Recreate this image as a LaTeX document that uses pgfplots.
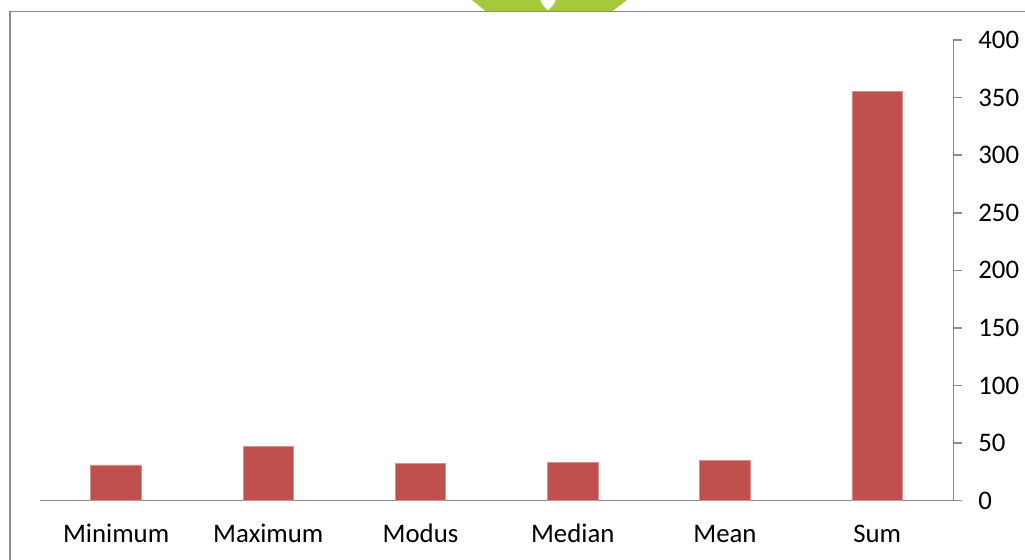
\documentclass[border=0pt]{standalone}
\usepackage{pgfplots}
\pgfplotsset{compat=1.18}
\usepackage{fontspec}
\setmainfont{Carlito}
\definecolor{barred}{HTML}{C0504D}
\definecolor{baredge}{HTML}{D6918F}
\definecolor{axgray}{HTML}{8C8C8C}
\definecolor{leaf}{HTML}{A6C83C}
\begin{document}
\begin{tikzpicture}
\useasboundingbox (0pt,0pt) rectangle (512.5pt,-280pt);
% watermark leaf at top
\fill[leaf] (236pt,0pt) -- (313.5pt,0pt) -- (306pt,-5.75pt) -- (243pt,-5.75pt) -- cycle;
\fill[white] (270pt,0.5pt) .. controls (271pt,-3pt) and (273pt,-4pt) .. (274pt,-5.2pt)
   .. controls (275pt,-4pt) and (277pt,-3pt) .. (278pt,0.5pt) -- cycle;
% outer frame
\draw[axgray, line width=0.75pt] (5pt,-5.75pt) rectangle (530pt,-295pt);
\begin{axis}[
  at={(20pt,-250.35pt)}, anchor=south west,
  scale only axis, width=456.65pt, height=230.35pt,
  xmin=-0.5, xmax=5.5, ymin=0, ymax=400,
  axis x line=bottom, axis y line=right,
  axis line style={-, draw=axgray, line width=0.75pt},
  xtick={0,1,2,3,4,5},
  xticklabels={Minimum,Maximum,Modus,Median,Mean,Sum},
  x tick style={draw=none},
  ytick={0,50,...,400},
  y tick style={draw=axgray, line width=0.75pt},
  tick align=outside, major tick length=4.5pt,
  ticklabel style={font=\fontsize{13.4}{15}\selectfont, text=black},
  yticklabel style={anchor=west, xshift=4.5pt},
  xticklabel style={anchor=base, yshift=-16.2pt},
  /pgf/number format/assume math mode=true,
]
\addplot[ybar, bar width=25.25pt, fill=barred, draw=baredge, line width=0.4pt]
  coordinates {(0,31) (1,47) (2,32) (3,33) (4,35.3) (5,355.5)};
\end{axis}
\end{tikzpicture}
\end{document}
